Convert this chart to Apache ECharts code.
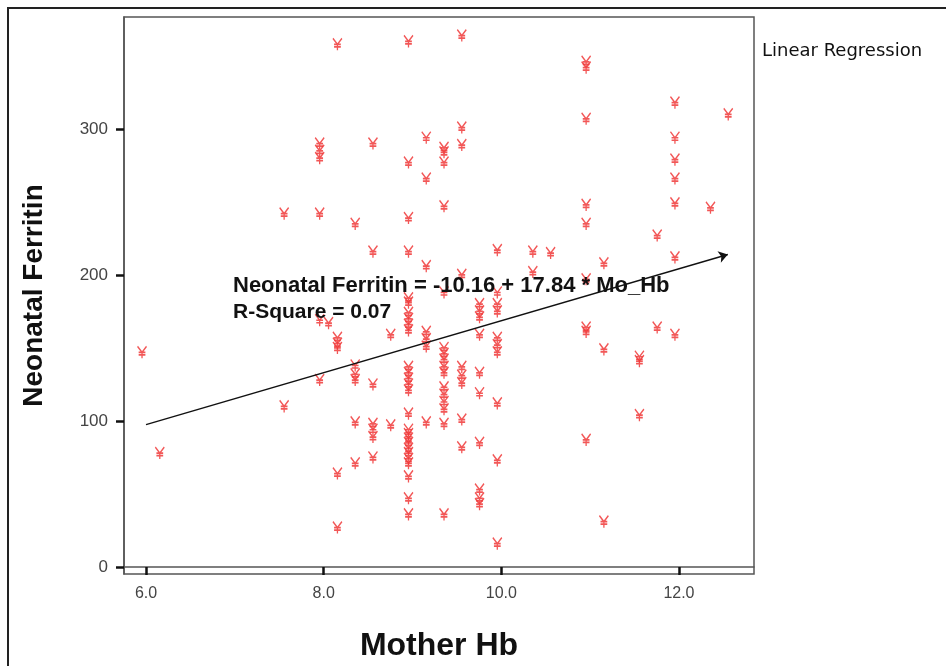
<!DOCTYPE html>
<html>
<head>
<meta charset="utf-8">
<script src="https://cdn.jsdelivr.net/npm/echarts@6/dist/echarts.min.js"></script>
<style>
  html, body { margin: 0; padding: 0; background: #fff; }
  #main { width: 946px; height: 666px; }
</style>
</head>
<body>
<div id="main"></div>
<script>
// Mother Hb levels (x) and the Neonatal Ferritin values observed at each level
const hbLevels = [6.0, 6.2, 7.6, 8.0, 8.1, 8.2, 8.4, 8.6, 8.8, 9.0, 9.2, 9.4, 9.6, 9.8, 10.0, 10.4, 10.6, 11.0, 11.2, 11.6, 11.8, 12.0, 12.4, 12.6];
const ferritinAtLevel = [
  [147],
  [78],
  [242, 110],
  [290, 285, 280, 242, 169, 128],
  [167],
  [358, 157, 153, 150, 64, 27],
  [235, 138, 132, 128, 99, 71],
  [290, 216, 125, 98, 94, 89, 75],
  [159, 97],
  [360, 277, 239, 216, 184, 181, 174, 170, 166, 162, 137, 133, 129, 125, 121, 105, 94, 91, 88, 85, 81, 78, 74, 71, 62, 47, 36],
  [294, 266, 206, 161, 156, 151, 99],
  [287, 284, 277, 247, 188, 150, 146, 142, 137, 133, 123, 118, 113, 108, 98, 36],
  [364, 301, 289, 200, 137, 131, 126, 101, 82],
  [180, 175, 171, 159, 133, 119, 85, 53, 47, 43],
  [217, 188, 180, 175, 157, 152, 147, 112, 73, 16],
  [216, 202],
  [215],
  [346, 342, 307, 248, 235, 197, 164, 161, 87],
  [208, 149, 31],
  [144, 141, 104],
  [227, 164],
  [318, 294, 279, 266, 249, 212, 159],
  [246],
  [310]
];
// fitted line end points
const fitLine = [[6.0, 97.5], [12.55, 214]];
const xTicks = [6, 8, 10, 12];
const yTicks = [0, 100, 200, 300];

const points = [];
hbLevels.forEach((hb, i) => {
  ferritinAtLevel[i].forEach(v => points.push([hb, v]));
});

// SPSS-ish marker glyph
const markGlyph = 'path://M0,0 L4,6 L8,0 M1,6 L7,6 M1,8.5 L7,8.5 M4,6 L4,12';

const chart = echarts.init(document.getElementById('main'));
chart.setOption({
  animation: false,
  grid: {
    left: 124, top: 17, right: 192, bottom: 92,
    outerBoundsMode: 'none',
    show: true,
    borderColor: '#555',
    borderWidth: 1.5
  },
  xAxis: {
    type: 'value',
    min: 5.752,
    max: 12.845,
    name: 'Mother Hb',
    nameLocation: 'middle',
    nameGap: 56,
    nameTextStyle: { fontFamily: 'Liberation Sans', fontWeight: 'bold', fontSize: 32, color: '#111' },
    axisLine: { show: true, lineStyle: { color: '#555', width: 1.5 } },
    axisTick: { show: true, customValues: xTicks, length: 8, lineStyle: { color: '#111', width: 2.5 } },
    axisLabel: {
      customValues: xTicks,
      margin: 12,
      fontFamily: 'Liberation Sans',
      fontSize: 16,
      color: '#444',
      formatter: v => v.toFixed(1)
    },
    splitLine: { show: false }
  },
  yAxis: {
    type: 'value',
    min: -4.8,
    max: 376.7,
    name: 'Neonatal Ferritin',
    nameLocation: 'middle',
    nameGap: 76,
    nameTextStyle: { fontFamily: 'Liberation Sans', fontWeight: 'bold', fontSize: 28, color: '#111' },
    axisLine: { show: true, lineStyle: { color: '#555', width: 1.5 } },
    axisTick: { show: true, customValues: yTicks, length: 8, lineStyle: { color: '#111', width: 2.5 } },
    axisLabel: {
      customValues: yTicks,
      margin: 16,
      fontFamily: 'Liberation Sans',
      fontSize: 17,
      color: '#444'
    },
    splitLine: { show: false }
  },
  series: [
    {
      name: 'Neonatal Ferritin',
      type: 'scatter',
      data: points,
      symbol: markGlyph,
      symbolSize: [9, 12],
      symbolOffset: [-4, 0],
      itemStyle: { color: 'transparent', borderColor: '#f03a3a', borderWidth: 1.5, opacity: 0.85 },
      z: 2
    },
    {
      name: 'Linear Regression',
      type: 'lines',
      coordinateSystem: 'cartesian2d',
      symbol: ['none', 'arrow'],
      symbolSize: 9,
      lineStyle: { color: '#111', width: 1.4, opacity: 1 },
      data: [{ coords: fitLine }],
      z: 3
    }
  ],
  graphic: [
    {
      type: 'rect',
      shape: { x: 8, y: 8, width: 1000, height: 1000 },
      style: { fill: 'none', stroke: '#222', lineWidth: 2 },
      silent: true,
      z: -1
    },
    {
      type: 'text',
      left: 762, top: 42,
      style: { text: 'Linear Regression', fontFamily: 'DejaVu Sans', fontSize: 18, fill: '#111' }
    },
    {
      type: 'text',
      left: 233, top: 275,
      style: { text: 'Neonatal Ferritin = -10.16 + 17.84 * Mo_Hb', fontFamily: 'Liberation Sans', fontWeight: 'bold', fontSize: 22, fill: '#111' },
      z: 10
    },
    {
      type: 'text',
      left: 233, top: 302,
      style: { text: 'R-Square = 0.07', fontFamily: 'Liberation Sans', fontWeight: 'bold', fontSize: 21, fill: '#111' },
      z: 10
    }
  ]
});
</script>
</body>
</html>
